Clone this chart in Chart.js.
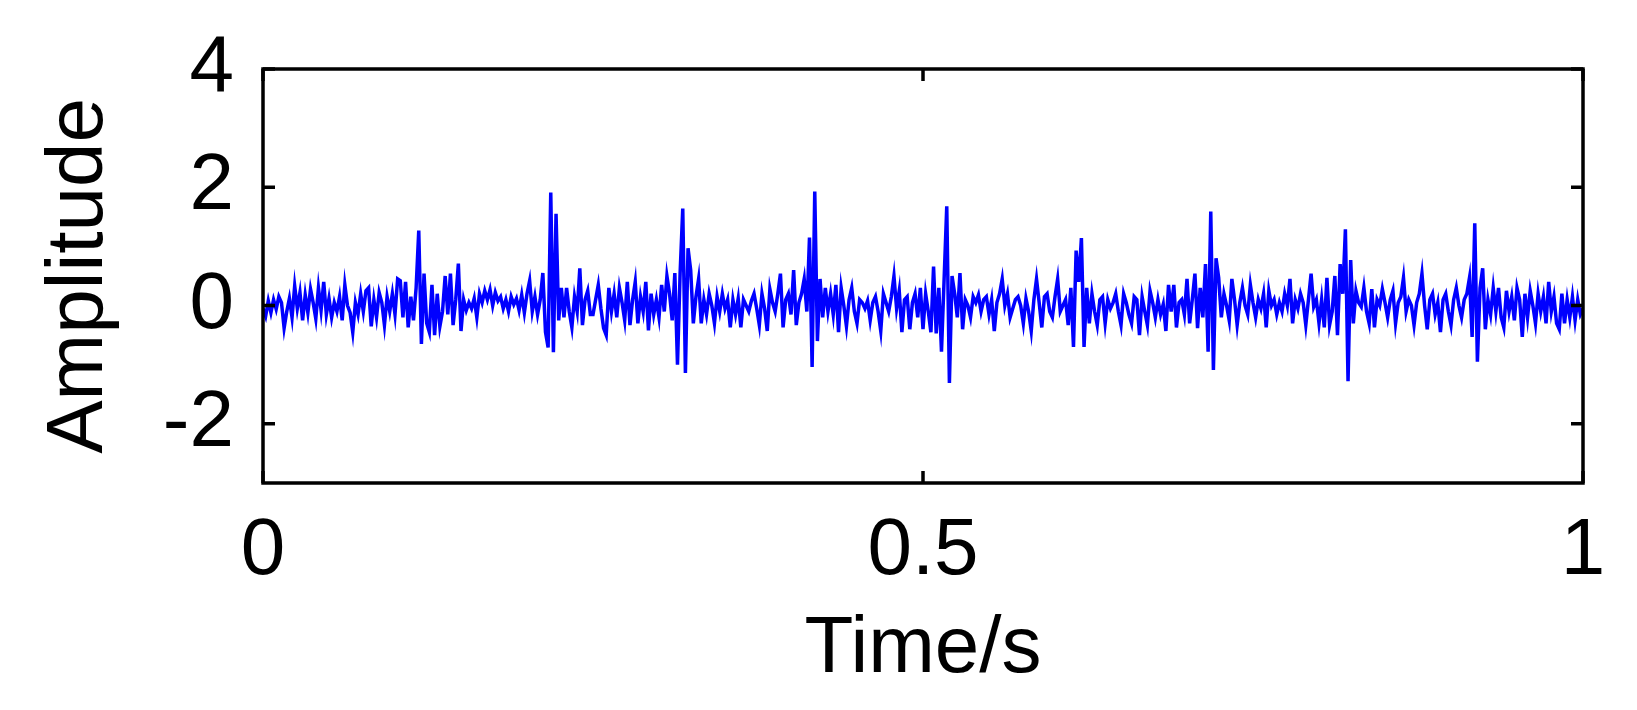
<!DOCTYPE html>
<html>
<head>
<meta charset="utf-8">
<script src="https://cdn.jsdelivr.net/npm/chart.js@4.4.0/dist/chart.umd.min.js"></script>
<style>html,body{margin:0;padding:0;background:#fff;overflow:hidden}</style>
</head>
<body>
<canvas id="c" width="1637" height="710"></canvas>
<script>
// ---- data ----
const sampleInterval = 0.002; // s
const amplitude = [
-0.05,-0.18,0.08,-0.12,0.1,-0.06,0.15,0.05,-0.38,-0.1,0.12,-0.2,0.33,-0.05,0.22,-0.25,0.18,-0.12,0.28,0.05,-0.22,0.3,-0.08,0.4,-0.15,
0.12,-0.2,0.05,-0.1,0.15,-0.25,0.35,0,-0.12,-0.45,0.05,-0.15,0.2,-0.1,0.25,0.3,-0.35,0.1,-0.2,0.22,0.05,-0.33,0.15,-0.1,0.2,
-0.15,0.45,0.42,-0.2,0.4,-0.37,0.15,-0.25,0.3,1.27,-0.65,0.54,-0.3,-0.45,0.35,-0.5,0.2,-0.35,-0.1,0.5,-0.15,0.54,-0.33,0.1,0.71,
-0.43,0.1,-0.08,0.05,-0.05,0.12,-0.2,0.2,0.05,0.25,0.1,0.27,0,0.22,0.08,0.15,-0.05,0.1,-0.1,0.15,0.02,0.12,-0.08,0.18,-0.12,
0.2,0.42,-0.1,0.15,-0.15,0.1,0.55,-0.45,-0.71,1.91,-0.79,1.55,-0.25,0.3,-0.2,0.3,-0.1,-0.37,0.15,-0.1,0.63,-0.33,0.1,0.25,-0.15,
-0.15,0.1,0.35,-0.05,-0.38,-0.5,0.3,-0.1,0.2,-0.2,0.3,0.05,-0.25,0.4,-0.33,0.1,0.4,-0.3,0.15,-0.1,0.4,-0.42,0.2,-0.15,0.1,
-0.2,0.35,-0.1,0.5,0.2,-0.25,0.55,-1,0.55,1.64,-1.14,0.97,0.6,-0.3,0.15,0.45,-0.3,0.1,-0.15,0.2,0,-0.3,0.15,-0.1,0.2,
-0.05,0.1,-0.37,0.1,-0.15,0.12,-0.37,0.1,0,-0.1,0.08,0.2,-0.05,-0.33,0.2,-0.05,-0.43,0.28,0.05,-0.1,0.2,0.54,-0.37,0.1,0.2,
-0.15,0.6,-0.33,0.05,0.2,0.45,-0.1,1.15,-1.04,1.93,-0.6,0.45,-0.2,0.3,-0.1,0.2,-0.15,0.35,-0.45,0.3,0,-0.35,0.1,0.3,-0.1,
-0.3,0.1,0.05,-0.05,0.08,-0.25,0.05,0.15,-0.1,-0.43,0.2,0.05,-0.1,0.15,0.5,-0.05,0.25,-0.45,0.1,0.15,-0.4,0.05,0.2,-0.2,0.3,
-0.4,0.2,-0.1,-0.45,0.66,-0.47,0.3,-0.78,0.45,1.68,-1.31,0.5,0.2,-0.2,0.55,-0.4,0.1,0,-0.2,0.15,0.05,0.18,-0.1,0.1,0.15,
-0.15,0.1,-0.43,0.05,0.2,0.45,0,0.2,-0.2,-0.05,0.1,0.15,0,-0.3,0.12,-0.1,-0.43,0.1,0.45,0.05,-0.37,0.15,0.2,-0.1,-0.2,
0.15,0.45,-0.1,0,0.1,-0.33,0.3,-0.7,0.93,0.4,1.14,-0.7,0.3,-0.3,0.2,-0.1,-0.33,0.1,0.15,-0.3,0.1,-0.05,0.05,0.2,-0.1,
-0.33,0.2,0.05,-0.15,-0.3,0.15,0.1,-0.5,0.15,-0.1,-0.33,0.25,0.05,-0.2,0.1,-0.15,0.02,-0.43,0.35,-0.1,0.35,-0.37,0.05,0.1,-0.15,
0.45,-0.3,0.1,0.54,-0.38,0.3,-0.2,0.7,-0.78,1.59,-1.09,0.8,0.47,-0.2,0.2,0,-0.25,0.45,0.1,-0.33,0.05,0.3,0,-0.15,0.35,
0.05,-0.2,0.1,-0.05,0.2,-0.37,0.25,0,0.1,-0.15,0.05,-0.1,0.2,0,0.45,-0.3,0.1,-0.05,0.2,0.05,-0.33,0.1,0.54,-0.02,0.1,
-0.3,0.1,-0.37,0.47,-0.33,-0.1,0.5,-0.5,0.7,0.2,1.29,-1.28,0.77,-0.3,0.25,0.05,-0.02,0.3,-0.1,-0.3,0.28,-0.37,0.1,0,0.28,
0.05,-0.2,0.1,0.25,-0.3,0.05,0.15,0.47,-0.1,0.1,0,-0.33,0.05,0.2,0.54,0,-0.4,0.1,0.2,-0.15,0.05,-0.45,0.1,0.2,-0.1,
-0.33,0.1,0.3,0,-0.2,0.1,0.2,0.47,-0.53,1.39,-0.95,0.3,0.63,-0.4,0.1,-0.15,0.3,-0.1,0.3,-0.2,-0.37,0.25,-0.1,0.15,-0.25,
0.3,0.1,-0.53,0.2,-0.2,0.25,0,-0.3,0.2,-0.1,0.15,-0.3,0.4,-0.1,0.15,-0.3,-0.4,0.2,-0.3,0.1,-0.2,0.15,-0.25,0.1,-0.15,
-0.05
];
const xTickValues = [0, 0.5, 1];
const yTickValues = [-2, 0, 2, 4];
const xRange = [0, 1];
const yRange = [-3, 4];
const xTitle = 'Time/s';
const yTitle = 'Amplitude';

// ---- chart ----
const FONT = '"Liberation Sans", Arial, Helvetica, sans-serif';
const points = amplitude.map((v, i) => ({ x: +(i * sampleInterval).toFixed(4), y: v }));

const framePlugin = {
  id: 'frame',
  afterDraw(chart) {
    const { ctx, chartArea: a, scales: { x, y } } = chart;
    const L = 12;
    ctx.save();
    ctx.strokeStyle = '#000';
    ctx.lineWidth = 3.5;
    ctx.beginPath();
    x.ticks.forEach(t => {
      const px = x.getPixelForValue(t.value);
      ctx.moveTo(px, a.bottom); ctx.lineTo(px, a.bottom - L);
      ctx.moveTo(px, a.top); ctx.lineTo(px, a.top + L);
    });
    y.ticks.forEach(t => {
      const py = y.getPixelForValue(t.value);
      ctx.moveTo(a.left, py); ctx.lineTo(a.left + L, py);
      ctx.moveTo(a.right, py); ctx.lineTo(a.right - L, py);
    });
    ctx.stroke();
    ctx.strokeRect(a.left, a.top, a.right - a.left, a.bottom - a.top);
    ctx.restore();
  }
};

new Chart(document.getElementById('c'), {
  type: 'line',
  data: {
    datasets: [{
      data: points,
      borderColor: '#0000ff',
      borderWidth: 3.5,
      borderJoinStyle: 'miter',
      pointRadius: 0,
      tension: 0,
      fill: false
    }]
  },
  options: {
    responsive: false,
    animation: false,
    devicePixelRatio: 1,
    parsing: false,
    layout: { padding: { top: 68, right: 54, left: 0, bottom: 0 } },
    plugins: { legend: { display: false }, tooltip: { enabled: false } },
    scales: {
      x: {
        type: 'linear',
        min: xRange[0], max: xRange[1],
        afterBuildTicks(s) { s.ticks = xTickValues.map(v => ({ value: v })); },
        afterFit(s) { s.height = 227; },
        grid: { display: false, drawTicks: false },
        border: { display: false },
        ticks: {
          color: '#000', padding: 29, maxRotation: 0, autoSkip: false,
          font: { family: FONT, size: 80, lineHeight: 1 },
          callback: v => String(v)
        },
        title: {
          display: true, text: xTitle, color: '#000',
          font: { family: FONT, size: 80, lineHeight: 1 },
          padding: { top: 0, bottom: 20 }
        }
      },
      y: {
        type: 'linear',
        min: yRange[0], max: yRange[1],
        afterBuildTicks(s) { s.ticks = yTickValues.map(v => ({ value: v })); },
        afterFit(s) { s.width = 263; },
        grid: { display: false, drawTicks: false },
        border: { display: false },
        ticks: {
          color: '#000', padding: 29, autoSkip: false,
          font: { family: FONT, size: 80, lineHeight: 1 },
          callback: v => String(v)
        },
        title: {
          display: true, text: yTitle, color: '#000',
          font: { family: FONT, size: 80, lineHeight: 1 },
          padding: { top: 40, bottom: 0 }
        }
      }
    }
  },
  plugins: [framePlugin]
});
</script>
</body>
</html>
